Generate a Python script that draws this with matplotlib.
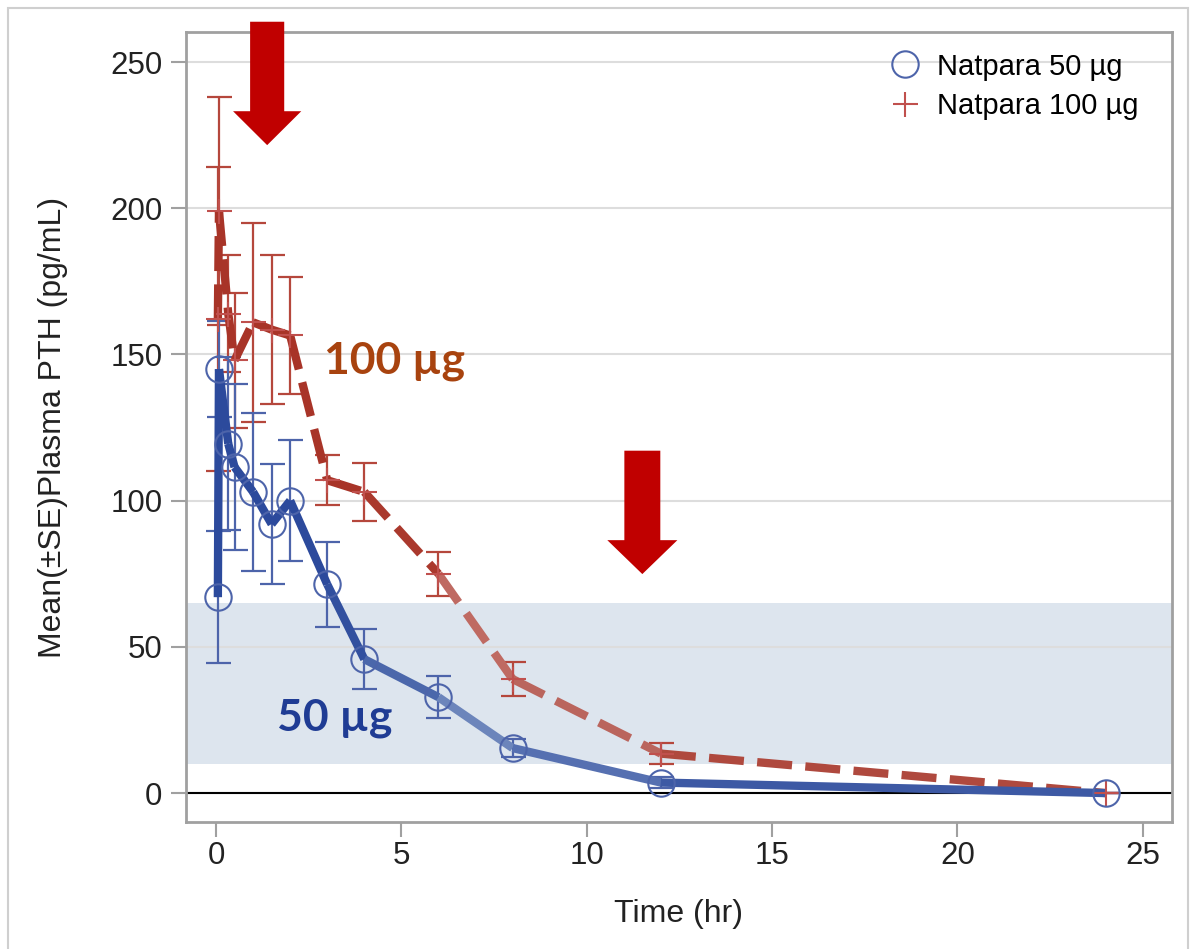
import numpy as np
import matplotlib
matplotlib.use("Agg")
import matplotlib.pyplot as plt
from matplotlib.collections import LineCollection
from matplotlib.colors import LinearSegmentedColormap
from matplotlib.lines import Line2D
from matplotlib.patches import FancyArrow, Rectangle

plt.rcParams['font.family'] = ['Liberation Sans', 'DejaVu Sans']

# sampling times (hr)
time_hr = [0.05, 0.08, 0.33, 0.5, 1, 1.5, 2, 3, 4, 6, 8, 12, 24]

# Natpara 50 ug : mean and SE (pg/mL)
pth_50 = [67, 145, 119.5, 111.5, 103, 92, 100, 71.4, 45.8, 32.8, 15.4, 3.6, 0]
se_50 = [22.6, 16.5, 29.5, 28.5, 27, 20.5, 20.7, 14.6, 10.3, 7.2, 3, 2, 0]

# Natpara 100 ug : mean and SE (pg/mL)
pth_100 = [162, 199, 164, 148, 161, 158.5, 156.5, 107, 103, 75, 39, 13.5, 0]
se_100 = [52, 39, 20, 23, 34, 25.5, 20, 8.5, 10, 7.5, 5.7, 3.5, 0]

legend_labels = ["Natpara 50 \u00b5g", "Natpara 100 \u00b5g"]
normal_range = (10, 65)

fig = plt.figure(figsize=(11.96, 9.49), dpi=100)
ax = fig.add_axes([0.1555, 0.1341, 0.9797 - 0.1555, 0.966 - 0.1341])

# outer border of the slide picture
fig.patches.append(Rectangle((8 / 1196, -0.05), 1180 / 1196, 1.05 - 8 / 949,
                             transform=fig.transFigure, fill=False,
                             edgecolor='#cfcfcf', lw=1.5))

ax.axhspan(*normal_range, color='#dde5ee', zorder=0.2, lw=0)
ax.axhline(0, color='black', lw=1.5, zorder=1.5)


def gradient_line(x, y, cmap, lw, ls, z):
    pts = np.column_stack([x, y])
    segs = np.stack([pts[:-1], pts[1:]], axis=1)
    mid = (np.array(x[:-1]) + np.array(x[1:])) / 2 / 24.0
    lc = LineCollection(segs, colors=cmap(mid), linewidths=lw, linestyles=ls,
                        capstyle='butt', joinstyle='round', zorder=z)
    ax.add_collection(lc)


blue_cmap = LinearSegmentedColormap.from_list(
    'b', [(0, '#2c4a9c'), (0.13, '#2c4a9c'), (0.3, '#7089bd'), (0.45, '#4e68ad'), (1, '#2f4c9c')])
red_cmap = LinearSegmentedColormap.from_list(
    'r', [(0, '#a83428'), (0.2, '#a83428'), (0.3, '#c27068'), (0.45, '#b8625a'), (1, '#a83428')])

# error bars
ax.errorbar(time_hr, pth_100, yerr=se_100, fmt='none', ecolor='#b5473c',
            elinewidth=1.6, capsize=9, capthick=1.6, zorder=2)
ax.errorbar(time_hr, pth_50, yerr=se_50, fmt='none', ecolor='#4d64aa',
            elinewidth=1.6, capsize=9, capthick=1.6, zorder=2.1)

gradient_line(time_hr, pth_100, red_cmap, 6, (0, (4.2, 1.6)), 3)
gradient_line(time_hr, pth_50, blue_cmap, 6, 'solid', 3.1)

ax.plot(time_hr, pth_100, ls='none', marker='+', ms=18, mew=1.5, color='#c0504d', zorder=4)
ax.plot(time_hr, pth_50, ls='none', marker='o', ms=19, mfc='none', mew=1.5,
        mec='#4d64aa', zorder=4.1)

# arrows
ax.add_patch(FancyArrow(1.38, 263.8, 0, -42.2, width=0.92, head_width=1.84,
                        head_length=11.6, length_includes_head=True,
                        color='#c00000', lw=0, clip_on=False, zorder=6))
ax.add_patch(FancyArrow(11.5, 117.1, 0, -42.2, width=0.97, head_width=1.89,
                        head_length=11.6, length_includes_head=True,
                        color='#c00000', lw=0, clip_on=False, zorder=6))

ax.text(2.9, 143.6, "100 \u00b5g", color='#a8430f', fontsize=32,
        fontweight='bold', family=['Lato', 'DejaVu Sans'], va='baseline', zorder=5)
ax.text(1.65, 21.5, "50 \u00b5g", color='#1f3c94', fontsize=32,
        fontweight='bold', family=['Lato', 'DejaVu Sans'], va='baseline', zorder=5)

ax.set_xlim(-0.81, 25.78)
ax.set_ylim(-9.8, 260.2)
ax.set_xticks([0, 5, 10, 15, 20, 25])
ax.set_yticks([0, 50, 100, 150, 200, 250])
ax.yaxis.grid(True, color='#dddddd', lw=1.5)
ax.set_axisbelow(True)
for s in ax.spines.values():
    s.set_color('#a0a0a0')
    s.set_linewidth(2)
ax.tick_params(axis='both', colors='#a0a0a0', labelcolor='#222222',
               labelsize=22.5, length=11, width=1.5)
ax.tick_params(axis='x', pad=3)
ax.tick_params(axis='y', pad=6)
ax.set_xlabel("Time (hr)", fontsize=23, color='#222222', labelpad=20)
ax.set_ylabel("Mean(\u00b1SE)Plasma PTH (pg/mL)", fontsize=23, color='#222222', labelpad=30)

handles = [Line2D([], [], ls='none', marker='o', ms=19, mfc='none', mew=1.5, mec='#4d64aa'),
           Line2D([], [], ls='none', marker='+', ms=18, mew=1.5, color='#c0504d')]
ax.legend(handles, legend_labels, loc='upper right', bbox_to_anchor=(0.987, 1.0),
          frameon=False, fontsize=21, handletextpad=0.3, labelspacing=0.4,
          borderaxespad=0.3, handlelength=1.6)

fig.savefig("out.png", dpi=100)
